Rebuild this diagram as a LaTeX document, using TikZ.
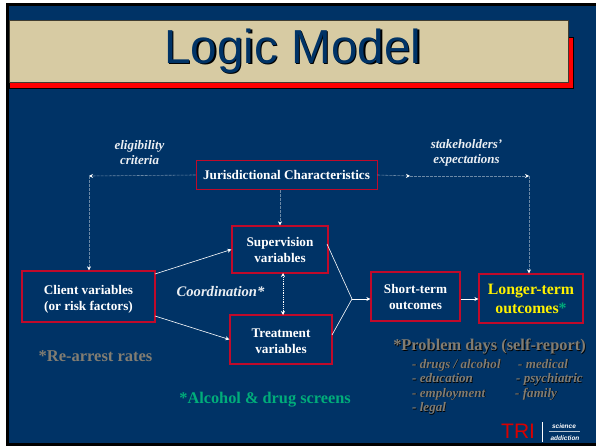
\documentclass[tikz,border=0pt]{standalone}
\usepackage{fontspec}
\setmainfont{Liberation Serif}
\setsansfont{Liberation Sans}
\usetikzlibrary{positioning, arrows.meta}

\definecolor{slideblue}{HTML}{003366}
\definecolor{titletan}{HTML}{D7CBA3}
\definecolor{boxred}{HTML}{C00A2A}
\definecolor{screengreen}{HTML}{00AD7A}
\definecolor{noteGray}{HTML}{827D72}

\newcommand{\shadowed}[3][black]{\makebox[0pt][l]{\kern#2\raisebox{-#2}{\textcolor{#1}{#3}}}#3}

\begin{document}
\begin{tikzpicture}[x=1pt, y=-1pt,
    block/.style={rectangle, draw=boxred, line width=1.3pt, inner sep=0pt, align=center, text=white, font=\fontsize{13.2}{16}\selectfont\bfseries},
    lbl/.style={align=center, text=white!92!slideblue, inner sep=0pt, font=\fontsize{13}{15}\selectfont\bfseries\itshape},
    note/.style={align=left, text=noteGray, inner sep=0pt, font=\fontsize{13.1}{14.4}\selectfont\bfseries\itshape},
    arrow/.style={-{Stealth[length=4pt,width=4pt]}, white, line width=0.6pt},
    dasharrow/.style={-{Stealth[length=4pt,width=4pt,color=white]}, white!42!slideblue, line width=0.6pt, dash pattern=on 3pt off 1pt}]

\useasboundingbox (0,0) rectangle (596,446);

% Background
\fill[white] (0,0) rectangle (596,446);
\fill[black] (6,3) rectangle (596,446);
\fill[slideblue] (9,6) rectangle (596,443);

% Title
\fill[red, draw=black, line width=0.5pt] (9,37) -| (573,88) -- (9,88) -- cycle;
\node [draw=black!70!titletan, fill=titletan, line width=0.6pt, minimum width=559pt, minimum height=62pt, inner sep=0pt, anchor=north west] (title) at (9,20) {};
\node [text=slideblue, inner sep=0pt, font=\fontsize{47.7}{47.7}\sffamily\selectfont] (titletext) at (293,52) {\shadowed{1.3pt}{Logic Model}};

% Nodes
\node [block, line width=0.8pt, minimum width=181pt, minimum height=29pt] (juris) at (286.5,175) {Jurisdictional Characteristics};
\node [block, minimum width=96pt, minimum height=47pt] (super) at (280,249.5) {Supervision\\variables};
\node [block, minimum width=133pt, minimum height=51pt] (client) at (88.5,296.5) {\rule{0pt}{14pt}Client variables\\(or risk factors)};
\node [block, minimum width=102pt, minimum height=49pt] (treat) at (281,339.5) {\rule{0pt}{12pt}Treatment\\variables};
\node [block, minimum width=89pt, minimum height=49pt] (short) at (415.5,296.5) {Short-term\\outcomes};
\node [block, minimum width=104pt, minimum height=49pt, text=yellow, font=\fontsize{15.8}{19}\selectfont\bfseries] (long) at (531,298.5) {Longer-term\\outcomes\textcolor{screengreen}{*}};

% Labels
\node [lbl] (elig) at (139.5,152.5) {eligibility\\criteria};
\node [lbl] (stake) at (466.5,152.5) {stakeholders'\\expectations};
\node [lbl, font=\fontsize{14.6}{16}\selectfont\bfseries\itshape] (coord) at (220.5,292) {Coordination*};
\node [text=noteGray, inner sep=0pt, font=\fontsize{16.5}{16.5}\selectfont\bfseries] (rearrest) at (95.5,356) {*Re-arrest rates};
\node [text=screengreen, inner sep=0pt, font=\fontsize{16.3}{16.3}\selectfont\bfseries] (screens) at (265,400) {*Alcohol \& drug screens};
\node [text=noteGray, inner sep=0pt, font=\fontsize{16.4}{16.4}\selectfont\bfseries] (days) at (489.5,347) {\shadowed{0.8pt}{*Problem days (self-report)}};
\node [note, anchor=north west] (listl) at (412,359) {\shadowed{0.6pt}{- drugs / alcohol}\\\shadowed{0.6pt}{- education}\\\shadowed{0.6pt}{- employment}\\\shadowed{0.6pt}{- legal}};
\node [note, anchor=north west] (listr) at (515,359) {\hspace*{3pt}\shadowed{0.6pt}{- medical}\\\hspace*{1pt}\shadowed{0.6pt}{- psychiatric}\\\shadowed{0.6pt}{- family}};

% Logo
\node [text=red!85!black, inner sep=0pt, anchor=base west, font=\fontsize{21}{21}\sffamily\selectfont] (tri) at (501,438) {TRI};
\node [text=white, inner sep=0pt, font=\fontsize{6.5}{6.5}\sffamily\bfseries\itshape\selectfont] (sci) at (564,426) {science};
\node [text=white, inner sep=0pt, font=\fontsize{6.5}{6.5}\sffamily\bfseries\itshape\selectfont] (add) at (565,438) {addiction};
\coordinate (divtop) at (542,422);
\coordinate (divbot) at (542,442);
\coordinate (ruleleft) at (549,431);
\coordinate (ruleright) at (580,431);
\draw [white, line width=0.6pt] (divtop) -- (divbot);
\draw [white!70!slideblue, line width=0.8pt] (ruleleft) -- (ruleright);

% Corners and joints
\coordinate (cornerl) at (89,176);
\coordinate (cornerr) at (529,176);
\coordinate (midr) at (410,176);
\coordinate (join) at (352,299);
\coordinate (clientup) at (155,274);
\coordinate (clientdn) at (155,316);
\coordinate (superout) at (327,244);
\coordinate (treatout) at (332,335);

% Arrows
\draw [dasharrow] (juris.west) -- (cornerl);
\draw [dasharrow] (cornerl) -- (client.north -| cornerl);
\draw [dasharrow] (juris.east) -- (midr);
\draw [dasharrow] (midr) -- (cornerr);
\draw [dasharrow] (cornerr) -- (long.north -| cornerr);
\draw [dasharrow] (juris.south -| super.north) -- (super.north);
\draw [arrow] (clientup) -- (super.west);
\draw [arrow] (clientdn) -- (treat.west);
\draw [white, line width=0.6pt] (superout) -- (join);
\draw [white, line width=0.6pt] (treatout) -- (join);
\draw [arrow] (join) -- (join -| short.west);
\draw [arrow] (short.east |- join) -- (join -| long.west);
\draw [{Stealth[length=4pt,width=4pt]}-{Stealth[length=4pt,width=4pt]}, white, line width=0.8pt, densely dotted] (283,273) -- (283,315);

\end{tikzpicture}
\end{document}
